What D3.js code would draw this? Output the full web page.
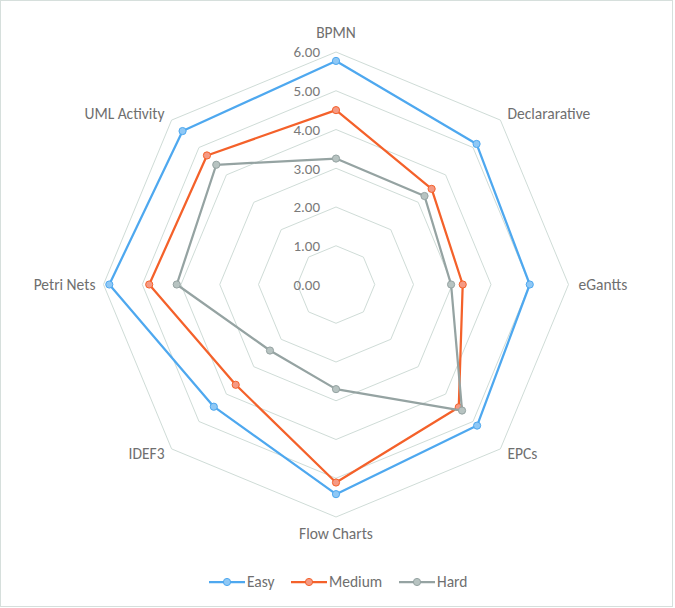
<!DOCTYPE html>
<html><head><meta charset="utf-8">
<script src="https://cdn.jsdelivr.net/npm/d3@7"></script>
<style>body{margin:0;background:#fff;}svg{display:block;font-family:Calibri,Carlito,Lato,"Open Sans",sans-serif;}</style>
</head><body><svg id="c" width="675" height="608"></svg>
<script>
const categories = ["BPMN","Declararative","eGantts","EPCs","Flow Charts","IDEF3","Petri Nets","UML Activity"];
const seriesNames = ["Easy","Medium","Hard"];
const easy   = [5.77, 5.13, 5.00, 5.15, 5.41, 4.46, 5.85, 5.60];
const medium = [4.50, 3.49, 3.27, 4.48, 5.11, 3.66, 4.82, 4.71];
const hard   = [3.25, 3.23, 2.97, 4.60, 2.70, 2.41, 4.11, 4.37];
const tickValues = [0, 1, 2, 3, 4, 5, 6];
const tickLabels = ["0.00","1.00","2.00","3.00","4.00","5.00","6.00"];
const colors = ["#4ea8ef","#f4612a","#95a3a2"];
const fills  = ["#8fc8f5","#f59a84","#b7c3c1"];

const svg = d3.select("#c");
svg.append("rect").attr("x",0.5).attr("y",0.5).attr("width",672).attr("height",606)
  .attr("fill","#fff").attr("stroke","#d6dfdc");

const cx = 336, cy = 284.5, R = 232.5;
const r = d3.scaleLinear().domain([0,6]).range([0,R]);
const n = categories.length;
const ang = d3.scaleLinear().domain([0,n]).range([0,2*Math.PI]);
const pt = (i,v) => [cx + r(v)*Math.sin(ang(i)), cy - r(v)*Math.cos(ang(i))];

const g = svg.append("g");
tickValues.forEach(t => {
  if (t === 0) return;
  const pts = d3.range(n).map(i => pt(i,t));
  g.append("polygon").attr("points", pts.map(p=>p.join(",")).join(" "))
    .attr("fill","none").attr("stroke","#cfdcd7").attr("stroke-width",1);
});
tickValues.forEach((t,k) => {
  g.append("text").attr("x", cx-16).attr("y", cy - r(t)).attr("dy","0.35em")
    .attr("text-anchor","end").attr("font-size",15).attr("fill","#7a7a7a").text(tickLabels[k]);
});
categories.forEach((c,i) => {
  const [x,y] = pt(i,6);
  const a = ang(i);
  const s = Math.sin(a), co = Math.cos(a);
  let anchor = Math.abs(s) < 0.01 ? "middle" : (s > 0 ? "start" : "end");
  let dx = 0, dy = 0;
  if (Math.abs(s) < 0.01) { dy = co > 0 ? -19 : 17; }
  else if (Math.abs(co) < 0.01) { dx = s > 0 ? 10 : -8; }
  else { dx = s > 0 ? 7 : -7; dy = co > 0 ? -7 : 5; }
  g.append("text").attr("x", x+dx).attr("y", y+dy).attr("dy","0.35em")
    .attr("text-anchor",anchor).attr("font-size",15.5).attr("fill","#6f6f6f").text(c);
});

const data = [easy, medium, hard];
const line = d3.lineRadial().angle((d,i)=>ang(i)).radius(d=>r(d)).curve(d3.curveLinearClosed);
data.forEach((vals,s) => {
  const sg = svg.append("g").attr("transform",`translate(${cx},${cy})`);
  sg.append("path").attr("d", line(vals)).attr("fill","none")
    .attr("stroke",colors[s]).attr("stroke-width",2.25).attr("stroke-linejoin","round");
  vals.forEach((v,i) => {
    const [x,y] = pt(i,v);
    svg.append("circle").attr("cx",x).attr("cy",y).attr("r",3.6)
      .attr("fill",fills[s]).attr("stroke",colors[s]).attr("stroke-width",1);
  });
});

const legX = [209, 291, 399];
const ly = 582;
seriesNames.forEach((nm,s) => {
  const lg = svg.append("g");
  lg.append("line").attr("x1",legX[s]).attr("x2",legX[s]+36).attr("y1",ly).attr("y2",ly)
    .attr("stroke",colors[s]).attr("stroke-width",2.25);
  lg.append("circle").attr("cx",legX[s]+18).attr("cy",ly).attr("r",3.6)
    .attr("fill",fills[s]).attr("stroke",colors[s]).attr("stroke-width",1);
  lg.append("text").attr("x",legX[s]+38).attr("y",ly).attr("dy","0.35em")
    .attr("font-size",15.5).attr("fill","#6f6f6f").text(nm);
});
</script></body></html>
